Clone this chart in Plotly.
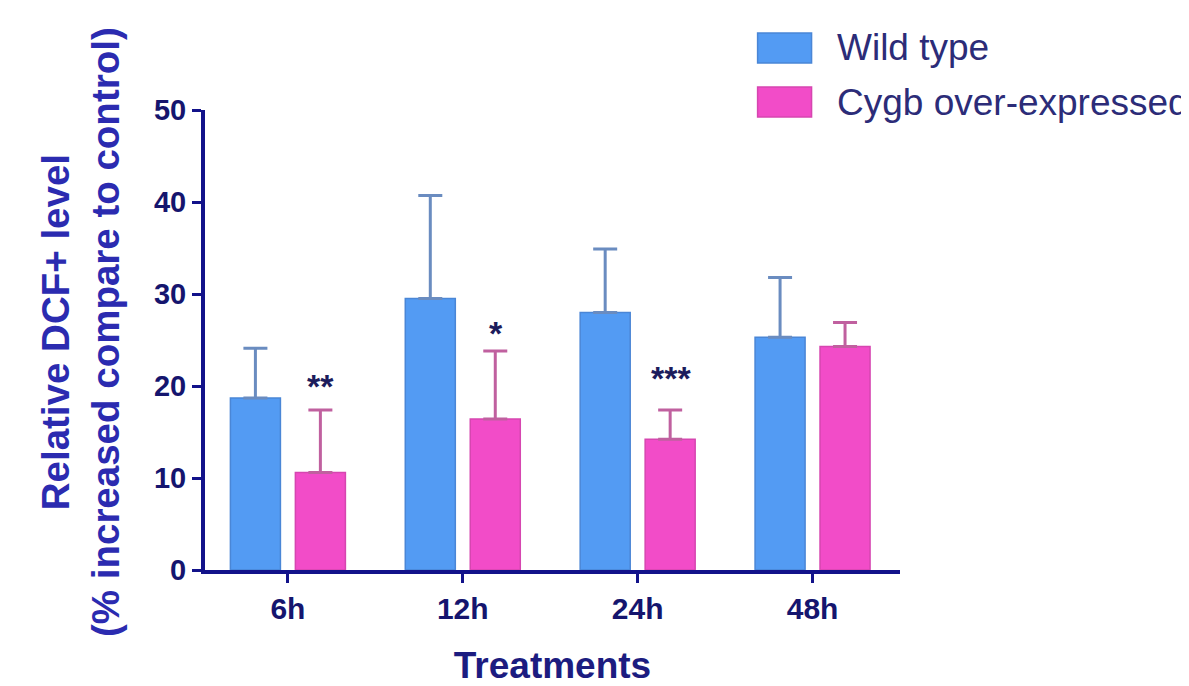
import plotly.graph_objects as go

categories = ["6h", "12h", "24h", "48h"]
wild_type_mean = [18.7, 29.5, 28.0, 25.3]
wild_type_err = [5.4, 11.2, 6.9, 6.5]
cygb_mean = [10.6, 16.4, 14.2, 24.3]
cygb_err = [6.8, 7.4, 3.2, 2.6]
sig_labels = ["**", "*", "***", ""]
sig_y = [20.5, 26.3, 21.4, None]
y_ticks = [0, 10, 20, 30, 40, 50]

NAVY = "#12128a"
TICK_TXT = "#15156e"
BLUE = "#539bf3"
PINK = "#f24cc8"
FONT = "Liberation Sans, Arial, sans-serif"

# page has an 8px body margin; figure is sized so the plot lands where the reference has it
PAGE_OFF = 8
FIG_W, FIG_H = 1189 - PAGE_OFF, 686 - PAGE_OFF
DOM_L, DOM_T, DOM_W, DOM_H = 205, 110, 695.5, 460

fig = go.Figure()
fig.add_trace(go.Bar(
    name="Wild type", x=categories, y=wild_type_mean,
    marker=dict(color=BLUE, line=dict(color="#4a86d6", width=1.5)),
    error_y=dict(type="data", symmetric=False, array=wild_type_err,
                 arrayminus=[0] * len(wild_type_err),
                 color="#6a8cc0", thickness=3, width=12),
))
fig.add_trace(go.Bar(
    name="Cygb over-expressed", x=categories, y=cygb_mean,
    marker=dict(color=PINK, line=dict(color="#d646b0", width=1.5)),
    error_y=dict(type="data", symmetric=False, array=cygb_err,
                 arrayminus=[0] * len(cygb_err),
                 color="#c0609f", thickness=3, width=12),
))

annotations = []
for cat, lab, yv in zip(categories, sig_labels, sig_y):
    if lab and yv is not None:
        annotations.append(dict(
            x=cat, y=yv, xref="x", yref="y", text="<b>" + lab + "</b>", showarrow=False,
            xshift=33, yshift=-5, yanchor="middle",
            font=dict(family=FONT, size=34, color="#1c1c5c"),
        ))

# y-axis title (two lines, rotated)
annotations.append(dict(
    x=0, y=0.5, xref="paper", yref="paper", xanchor="center", yanchor="middle",
    xshift=-125, yshift=8, textangle=-90, showarrow=False,
    text="<b>Relative DCF+ level<br>(% increased compare to control)</b>",
    font=dict(family=FONT, size=38.5, color="#2b2bb0"),
))


def px_x(p):
    return (p - DOM_L) / DOM_W


def px_y(p):
    return (DOM_T + DOM_H - p) / DOM_H


shapes = []
legend_items = [("Wild type", BLUE, "#4a86d6", 33, 63),
                ("Cygb over-expressed", PINK, "#d646b0", 87, 117)]
for name, fill, edge, top, bot in legend_items:
    shapes.append(dict(type="rect", xref="paper", yref="paper",
                       x0=px_x(758), x1=px_x(812), y0=px_y(bot), y1=px_y(top),
                       fillcolor=fill, line=dict(color=edge, width=1.5)))
    annotations.append(dict(
        x=px_x(835), y=px_y((top + bot) / 2), xref="paper", yref="paper",
        xanchor="left", yanchor="middle", showarrow=False, text=name,
        font=dict(family=FONT, size=37, color="#2c2c78"),
    ))

fig.update_layout(
    width=FIG_W, height=FIG_H,
    margin=dict(l=DOM_L - PAGE_OFF, r=FIG_W - (DOM_L - PAGE_OFF) - DOM_W,
                t=DOM_T - PAGE_OFF, b=FIG_H - (DOM_T - PAGE_OFF) - DOM_H,
                autoexpand=False),
    paper_bgcolor="white", plot_bgcolor="white",
    barmode="group", bargap=0.257, bargroupgap=0.23,
    showlegend=False,
    font=dict(family=FONT),
    annotations=annotations,
    shapes=shapes,
    xaxis=dict(
        range=[-0.474, 3.5], showgrid=False, zeroline=False,
        showline=True, linecolor=NAVY, linewidth=4,
        ticks="outside", ticklen=9, tickwidth=3, tickcolor=NAVY,
        tickfont=dict(family=FONT, size=30, color=TICK_TXT, weight="bold"),
        title=dict(text="<b>Treatments</b>", standoff=30,
                   font=dict(family=FONT, size=37, color="#1c1c80")),
    ),
    yaxis=dict(
        range=[0, 50], tickvals=y_ticks, showgrid=False, zeroline=False,
        showline=True, linecolor=NAVY, linewidth=4,
        ticks="outside", ticklen=9, tickwidth=3, tickcolor=NAVY,
        tickfont=dict(family=FONT, size=29, color=TICK_TXT, weight="bold"),
    ),
)

fig.write_html("out.html")
